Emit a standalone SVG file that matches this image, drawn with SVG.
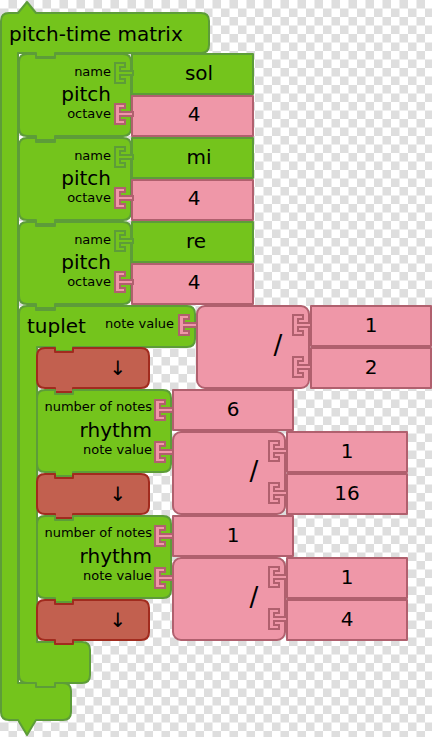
<svg xmlns="http://www.w3.org/2000/svg" xmlns:xlink="http://www.w3.org/1999/xlink" width="432" height="737" viewBox="0 0 432 737">
<defs>
<pattern id="checker" width="17" height="17" patternUnits="userSpaceOnUse">
<rect width="17" height="17" fill="#ffffff"/>
<rect x="8.5" y="0" width="8.5" height="8.5" fill="#dedede"/>
<rect x="0" y="8.5" width="8.5" height="8.5" fill="#dedede"/>
</pattern>
<path id="plug" d="M0,0 H10 V4 H5 V8 H18 V12 H5 V16 H10 V20 H0 Z"/>
</defs>
<style>
.g{fill:#74c41c;stroke:#5d9c39;stroke-width:2;stroke-linejoin:round}
.p{fill:#ef97a8;stroke:#b0606e;stroke-width:2;stroke-linejoin:round}
.r{fill:#c2604f;stroke:#a12b1e;stroke-width:2;stroke-linejoin:round}
.gp{fill:#74c41c;stroke:#5d9c39;stroke-width:2;stroke-linejoin:miter}
.pp{fill:#ef97a8;stroke:#b0606e;stroke-width:2;stroke-linejoin:miter}
text{font-family:"DejaVu Sans","Liberation Sans",sans-serif;fill:#000}
.big{font-size:20px}
.sm{font-size:13px}
.e{text-anchor:end}
.m{text-anchor:middle}
.sl{font-size:26px;text-anchor:middle}
</style>
<rect width="432" height="737" fill="url(#checker)"/>

<g id="matrix">
<path class="g" d="M1,21 Q1,13 9,13 H18 L27,2 L36,13 H201 Q209,13 209,21 V45 Q209,53 201,53 H55 V57 H36 V53 H18 V683 H63 Q71,683 71,691 V712 Q71,720 63,720 H36 L27,735 L18,720 H9 Q1,720 1,712 Z"/>
<text class="big" x="9" y="41">pitch-time matrix</text>
</g>

<g id="pitch1">
<path class="g" d="M19,62 Q19,54 27,54 H36 V58 H55 V54 H123 Q131,54 131,62 V128 Q131,136 123,136 H55 V140 H36 V136 H27 Q19,136 19,128 Z"/>
<rect class="g" x="132" y="54" width="121" height="40"/>
<rect class="p" x="132" y="96" width="121" height="40"/>
<use href="#plug" x="115" y="63" class="gp"/>
<use href="#plug" x="115" y="104" class="pp"/>
<text class="sm e" x="111" y="76">name</text>
<text class="big e" x="111" y="101">pitch</text>
<text class="sm e" x="111" y="118">octave</text>
<text class="big m" x="199" y="80">sol</text>
<text class="big m" x="194" y="121">4</text>
</g>

<g id="pitch2">
<path class="g" d="M19,146 Q19,138 27,138 H36 V142 H55 V138 H123 Q131,138 131,146 V212 Q131,220 123,220 H55 V224 H36 V220 H27 Q19,220 19,212 Z"/>
<rect class="g" x="132" y="138" width="121" height="40"/>
<rect class="p" x="132" y="180" width="121" height="40"/>
<use href="#plug" x="115" y="147" class="gp"/>
<use href="#plug" x="115" y="188" class="pp"/>
<text class="sm e" x="111" y="160">name</text>
<text class="big e" x="111" y="185">pitch</text>
<text class="sm e" x="111" y="202">octave</text>
<text class="big m" x="199" y="164">mi</text>
<text class="big m" x="194" y="205">4</text>
</g>

<g id="pitch3">
<path class="g" d="M19,230 Q19,222 27,222 H36 V226 H55 V222 H123 Q131,222 131,230 V296 Q131,304 123,304 H55 V308 H36 V304 H27 Q19,304 19,296 Z"/>
<rect class="g" x="132" y="222" width="121" height="40"/>
<rect class="p" x="132" y="264" width="121" height="40"/>
<use href="#plug" x="115" y="231" class="gp"/>
<use href="#plug" x="115" y="272" class="pp"/>
<text class="sm e" x="111" y="244">name</text>
<text class="big e" x="111" y="269">pitch</text>
<text class="sm e" x="111" y="286">octave</text>
<text class="big m" x="196" y="248">re</text>
<text class="big m" x="194" y="289">4</text>
</g>

<g id="tuplet">
<path class="g" d="M19,314 Q19,306 27,306 H36 V310 H55 V306 H187 Q195,306 195,314 V339 Q195,347 187,347 H73 V351 H55 V347 H37 V642 H82 Q90,642 90,650 V675 Q90,683 82,683 H55 V687 H36 V683 H27 Q19,683 19,675 Z"/>
<text class="big" x="27" y="333">tuplet</text>
<text class="sm e" x="174" y="328">note value</text>
</g>

<g id="divide1">
<rect class="p" x="197" y="306" width="112" height="82" rx="8"/>
<use href="#plug" x="179" y="315" class="pp"/>
<rect class="p" x="311" y="306" width="120" height="40"/>
<rect class="p" x="311" y="348" width="120" height="40"/>
<use href="#plug" x="293" y="315" class="pp"/>
<use href="#plug" x="293" y="357" class="pp"/>
<text class="sl" x="278" y="354">/</text>
<text class="big m" x="371" y="332">1</text>
<text class="big m" x="371" y="374">2</text>
</g>

<g id="hold1">
<path class="r" d="M37,356 Q37,348 45,348 H55 V352 H73 V348 H141 Q149,348 149,356 V380 Q149,388 141,388 H73 V392 H55 V388 H45 Q37,388 37,380 Z"/>
<text class="big m" x="118" y="375">↓</text>
</g>

<g id="rhythm1">
<path class="g" d="M37,398 Q37,390 45,390 H55 V394 H73 V390 H163 Q171,390 171,398 V464 Q171,472 163,472 H73 V476 H55 V472 H45 Q37,472 37,464 Z"/>
<rect class="p" x="173" y="390" width="120" height="40"/>
<use href="#plug" x="155" y="400" class="pp"/>
<text class="sm e" x="152" y="411">number of notes</text>
<text class="big e" x="152" y="437">rhythm</text>
<text class="sm e" x="152" y="454">note value</text>
<text class="big m" x="233" y="416">6</text>
</g>

<g id="divide2">
<rect class="p" x="173" y="432" width="112" height="82" rx="8"/>
<use href="#plug" x="155" y="442" class="pp"/>
<rect class="p" x="287" y="432" width="120" height="40"/>
<rect class="p" x="287" y="474" width="120" height="40"/>
<use href="#plug" x="269" y="441" class="pp"/>
<use href="#plug" x="269" y="483" class="pp"/>
<text class="sl" x="254" y="480">/</text>
<text class="big m" x="347" y="458">1</text>
<text class="big m" x="347" y="500">16</text>
</g>

<g id="hold2">
<path class="r" d="M37,482 Q37,474 45,474 H55 V478 H73 V474 H141 Q149,474 149,482 V506 Q149,514 141,514 H73 V518 H55 V514 H45 Q37,514 37,506 Z"/>
<text class="big m" x="118" y="501">↓</text>
</g>

<g id="rhythm2">
<path class="g" d="M37,524 Q37,516 45,516 H55 V520 H73 V516 H163 Q171,516 171,524 V590 Q171,598 163,598 H73 V602 H55 V598 H45 Q37,598 37,590 Z"/>
<rect class="p" x="173" y="516" width="120" height="40"/>
<use href="#plug" x="155" y="526" class="pp"/>
<text class="sm e" x="152" y="537">number of notes</text>
<text class="big e" x="152" y="563">rhythm</text>
<text class="sm e" x="152" y="580">note value</text>
<text class="big m" x="233" y="542">1</text>
</g>

<g id="divide3">
<rect class="p" x="173" y="558" width="112" height="82" rx="8"/>
<use href="#plug" x="155" y="568" class="pp"/>
<rect class="p" x="287" y="558" width="120" height="40"/>
<rect class="p" x="287" y="600" width="120" height="40"/>
<use href="#plug" x="269" y="567" class="pp"/>
<use href="#plug" x="269" y="609" class="pp"/>
<text class="sl" x="254" y="606">/</text>
<text class="big m" x="347" y="584">1</text>
<text class="big m" x="347" y="626">4</text>
</g>

<g id="hold3">
<path class="r" d="M37,608 Q37,600 45,600 H55 V604 H73 V600 H141 Q149,600 149,608 V632 Q149,640 141,640 H73 V644 H55 V640 H45 Q37,640 37,632 Z"/>
<text class="big m" x="118" y="627">↓</text>
</g>

<g id="connectors"/>
</svg>
